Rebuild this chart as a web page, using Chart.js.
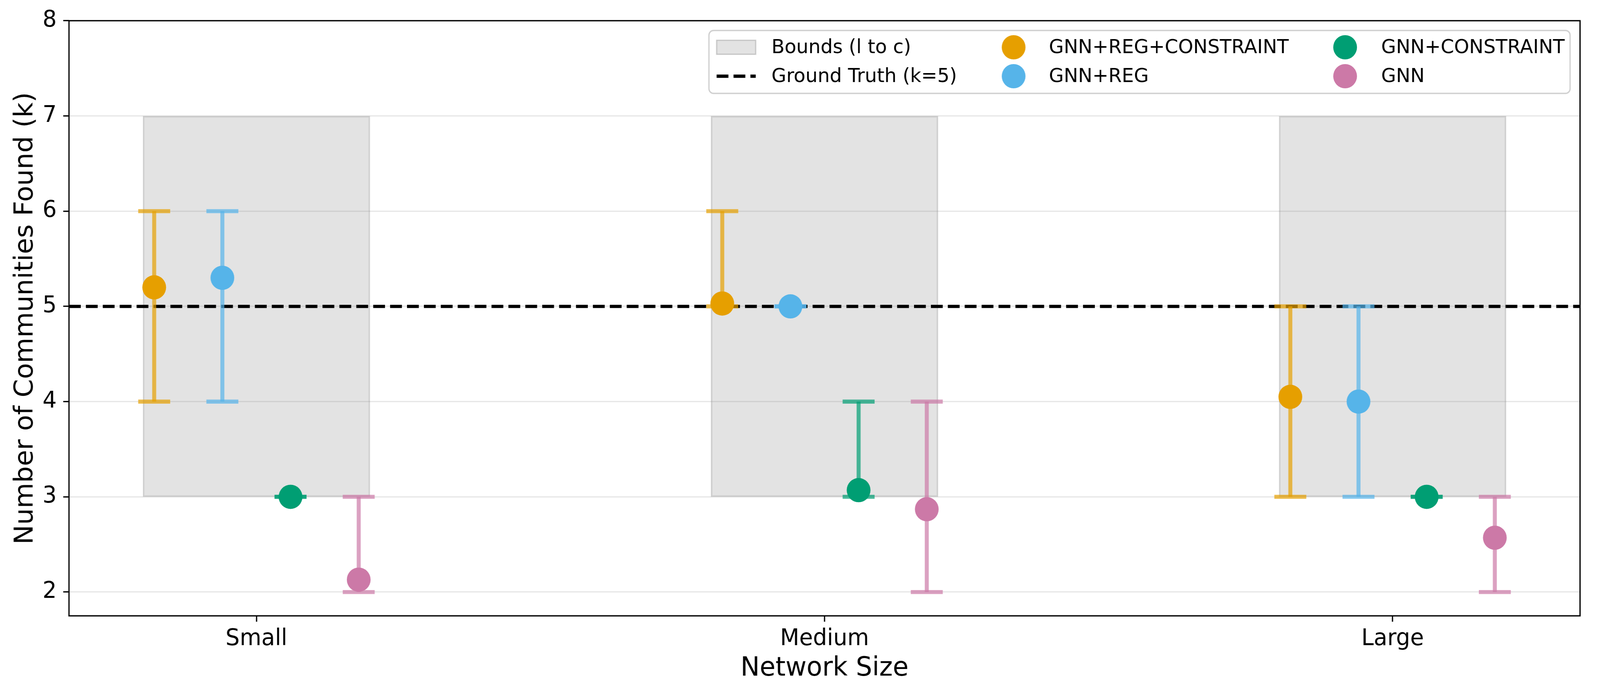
<!DOCTYPE html>
<html><head><meta charset="utf-8">
<script src="https://cdn.jsdelivr.net/npm/chart.js@4.4.1/dist/chart.umd.min.js"></script>
<style>html,body{margin:0;padding:0;background:#fff;overflow:hidden}canvas{display:block}</style>
</head><body>
<canvas id="c" width="4175" height="1776" style="width:4175px;height:1776px"></canvas>
<script>
// ---------- data ----------
const categories = ['Small', 'Medium', 'Large'];
const methodNames = ['GNN+REG+CONSTRAINT', 'GNN+REG', 'GNN+CONSTRAINT', 'GNN'];
const methodOffsets = [-0.18, -0.06, 0.06, 0.18];
const methodColors = ['#E69F00', '#56B4E9', '#009E73', '#CC79A7'];
const meanRegCon = [5.20, 5.03, 4.05];
const meanReg    = [5.30, 5.00, 4.00];
const meanCon    = [3.00, 3.07, 3.00];
const meanGnn    = [2.13, 2.87, 2.57];
const lowRegCon  = [4, 5, 3];
const highRegCon = [6, 6, 5];
const lowReg     = [4, 5, 3];
const highReg    = [6, 5, 5];
const lowCon     = [3, 3, 3];
const highCon    = [3, 4, 3];
const lowGnn     = [2, 2, 2];
const highGnn    = [3, 4, 3];
const boundLower = [3, 3, 3];
const boundUpper = [7, 7, 7];
const groundTruth = 5;
const yTicks = [2, 3, 4, 5, 6, 7, 8];
const yRange = [1.75, 8];
const xRange = [-0.33, 2.33];

const means = [meanRegCon, meanReg, meanCon, meanGnn];
const lows = [lowRegCon, lowReg, lowCon, lowGnn];
const highs = [highRegCon, highReg, highCon, highGnn];

function rgba(hex, a) {
  const n = parseInt(hex.slice(1), 16);
  return `rgba(${(n >> 16) & 255},${(n >> 8) & 255},${n & 255},${a})`;
}
const FONT = '"DejaVu Sans", "Liberation Sans", sans-serif';
const BOUND_FILL = 'rgba(128,128,128,0.22)';
const BOUND_EDGE = 'rgba(128,128,128,0.38)';

const datasets = [];
// bounds (floating bars)
datasets.push({
  type: 'bar', label: 'Bounds (l to c)', order: 4,
  data: categories.map((c, i) => ({ x: i, y: [boundLower[i], boundUpper[i]] })),
  backgroundColor: BOUND_FILL, borderColor: BOUND_EDGE, borderWidth: 4, borderSkipped: false,
  categoryPercentage: 1.0, barPercentage: 0.4
});
// ground truth
datasets.push({
  type: 'line', label: 'Ground Truth (k=5)', order: 3,
  data: [{ x: xRange[0], y: groundTruth }, { x: xRange[1], y: groundTruth }],
  borderColor: '#000', borderWidth: 8.33, borderDash: [30.8, 13.3], pointRadius: 0, fill: false
});
// error bars
methodNames.forEach((m, k) => {
  const d = [];
  categories.forEach((c, i) => {
    const x = i + methodOffsets[k];
    d.push({ x, y: lows[k][i] }, { x, y: highs[k][i] }, { x, y: null });
  });
  const col = rgba(methodColors[k], 0.7);
  datasets.push({
    type: 'line', label: m + ' err', order: 2, data: d, spanGaps: false,
    borderColor: col, borderWidth: 10.4, borderCapStyle: 'butt',
    pointStyle: 'line', pointRadius: 41.7, pointBorderWidth: 10.4,
    pointBorderColor: col, pointBackgroundColor: col, fill: false
  });
});
// markers
methodNames.forEach((m, k) => {
  datasets.push({
    type: 'scatter', label: m, order: 1,
    data: categories.map((c, i) => ({ x: i + methodOffsets[k], y: means[k][i] })),
    pointRadius: 31, pointBackgroundColor: methodColors[k], pointBorderWidth: 0,
    borderColor: methodColors[k], showLine: false
  });
});

const framePlugin = {
  id: 'frame',
  afterDatasetsDraw(chart) {
    const { ctx, chartArea: a } = chart;
    ctx.save();
    ctx.strokeStyle = '#000';
    ctx.lineWidth = 3.3;
    ctx.strokeRect(a.left, a.top, a.right - a.left, a.bottom - a.top);
    ctx.restore();
  }
};

const legendPlugin = {
  id: 'mplLegend',
  afterDraw(chart) {
    const { ctx, chartArea: a } = chart;
    const W = 2247, H = 161;
    const L = a.right - 26 - W, T = a.top + 25;
    ctx.save();
    ctx.beginPath();
    ctx.roundRect(L, T, W, H, 12);
    ctx.fillStyle = 'rgba(255,255,255,0.8)';
    ctx.fill();
    ctx.strokeStyle = '#d0d0d0';
    ctx.lineWidth = 3.3;
    ctx.stroke();
    const r1 = T + 43, r2 = T + 117;
    ctx.font = '50px ' + FONT;
    ctx.textBaseline = 'middle';
    // col 1: bounds patch
    ctx.fillStyle = '#fff';
    ctx.fillRect(L + 20, r1 - 18, 102, 36);
    ctx.fillStyle = BOUND_FILL;
    ctx.fillRect(L + 20, r1 - 18, 102, 36);
    ctx.strokeStyle = BOUND_EDGE;
    ctx.lineWidth = 3;
    ctx.strokeRect(L + 20, r1 - 18, 102, 36);
    ctx.fillStyle = '#000';
    ctx.fillText(datasets[0].label, L + 163, r1 + 2);
    // ground truth handle
    ctx.beginPath();
    ctx.setLineDash([30.8, 13.3]);
    ctx.strokeStyle = '#000';
    ctx.lineWidth = 8.33;
    ctx.moveTo(L + 20, r2); ctx.lineTo(L + 122, r2);
    ctx.stroke();
    ctx.setLineDash([]);
    ctx.fillText(datasets[1].label, L + 163, r2 + 2);
    // method markers
    const mx = [L + 795, L + 795, L + 1660, L + 1660];
    const tx = [L + 887, L + 887, L + 1754, L + 1754];
    const ry = [r1, r2, r1, r2];
    methodNames.forEach((m, k) => {
      ctx.beginPath();
      ctx.arc(mx[k], ry[k], 31, 0, Math.PI * 2);
      ctx.fillStyle = methodColors[k];
      ctx.fill();
      ctx.fillStyle = '#000';
      ctx.fillText(m, tx[k], ry[k] + 2);
    });
    ctx.restore();
  }
};

const canvas = document.getElementById('c');
new Chart(canvas, {
  type: 'scatter',
  data: { datasets },
  options: {
    responsive: false, animation: false, devicePixelRatio: 1,
    events: [],
    layout: { padding: { left: 0, top: 53, right: 30, bottom: 0 } },
    plugins: { legend: { display: false }, tooltip: { enabled: false } },
    scales: {
      x: {
        type: 'linear', min: xRange[0], max: xRange[1], offset: false,
        afterFit(s) { s.height = 200; },
        afterBuildTicks(s) { s.ticks = categories.map((c, i) => ({ value: i })); },
        ticks: {
          callback: (v) => categories[v], font: { size: 58, family: FONT }, color: '#000',
          padding: 10, maxRotation: 0, autoSkip: false
        },
        grid: { drawOnChartArea: false, drawTicks: true, tickLength: 15, tickColor: '#000', tickWidth: 3.3, offset: false },
        border: { display: false },
        title: { display: true, text: 'Network Size', font: { size: 67, family: FONT }, color: '#000', padding: { top: 0, bottom: 24 } }
      },
      y: {
        type: 'linear', min: yRange[0], max: yRange[1],
        afterFit(s) { s.width = 180; },
        afterBuildTicks(s) { s.ticks = yTicks.map(v => ({ value: v })); },
        ticks: { font: { size: 58, family: FONT }, color: '#000', padding: 17 },
        grid: { color: '#e7e7e7', lineWidth: 3.3, drawTicks: true, tickLength: 15, tickColor: '#000', tickWidth: 3.3 },
        border: { display: false },
        title: { display: true, text: 'Number of Communities Found (k)', font: { size: 67, family: FONT }, color: '#000', padding: { top: 27, bottom: 0 } }
      }
    }
  },
  plugins: [framePlugin, legendPlugin]
});
// fit the 4175-wide drawing into the actual viewport width (no resize of the drawing buffer)
function fitCanvas() {
  const vw = window.innerWidth || document.documentElement.clientWidth || 4175;
  canvas.style.width = Math.min(4175, vw) + 'px';
  canvas.style.height = '1776px';
}
fitCanvas();
</script>
</body></html>
